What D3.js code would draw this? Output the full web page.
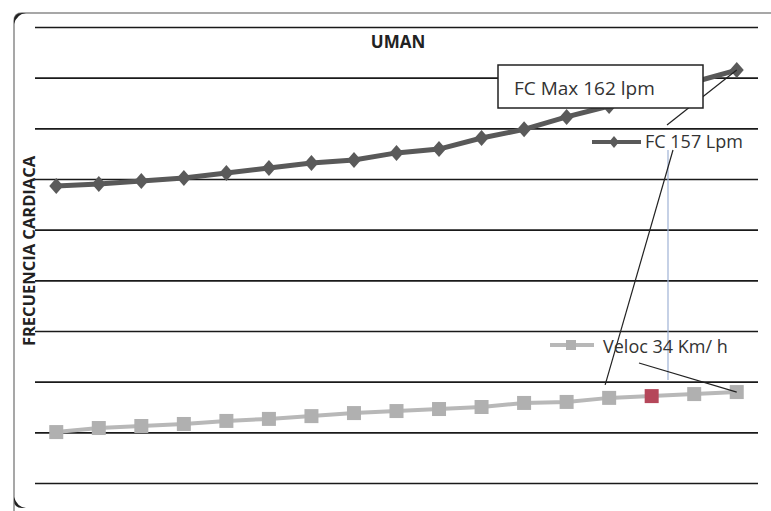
<!DOCTYPE html>
<html lang="es">
<head>
  <meta charset="utf-8">
  <title>UMAN</title>
  <script src="https://d3js.org/d3.v7.min.js"></script>
  <style>
    body { margin: 0; background: #fff; }
    text { font-family: "Open Sans", sans-serif; }
    .grid line { stroke: #1a1a1a; stroke-width: 1.6; }
    .grid path { display: none; }
    .grid text { display: none; }
  </style>
</head>
<body>
  <script>
    // etapas (17 mediciones)
    var stages = d3.range(1, 18);
    // frecuencia cardiaca (lpm)
    var fc = [117.2, 118.0, 119.2, 120.4, 122.4, 124.3, 126.3, 127.5, 130.3,
              131.8, 136.2, 139.6, 144.5, 148.8, 153.6, 158.3, 163.0];
    // velocidad (km/h)
    var veloc = [20.1, 21.7, 22.5, 23.3, 24.5, 25.3, 26.4, 27.6, 28.4,
                 29.2, 30.0, 31.6, 32.0, 33.6, 34.3, 35.1, 35.9];
    var yTicks = [0, 20, 40, 60, 80, 100, 120, 140, 160, 180];
    var highlightIdx = 14; // punto rojo en la serie de velocidad

    var w = 771, h = 511;
    var margin = {top: 27, right: 13, bottom: 28, left: 35};
    var innerW = w - margin.left - margin.right,
        innerH = h - margin.top - margin.bottom;

    var svg = d3.select('body').append('svg')
      .attr('width', w)
      .attr('height', h);

    // marco del grafico (solo borde superior e izquierdo visibles)
    svg.append('path')
      .attr('d', 'M14,520 L14,21 Q14,13 22,13 L771,13')
      .attr('fill', 'none')
      .attr('stroke', '#8a8a8a')
      .attr('stroke-width', 1.5);
    svg.append('path')
      .attr('d', 'M14,24 L14,21 Q14,13 22,13 L26,13 Q17,14 14,24 Z')
      .attr('fill', '#222');
    svg.append('path')
      .attr('d', 'M14,497 L14,500 Q14,508 22,508 L26,508 Q17,507 14,497 Z')
      .attr('fill', '#222');

    var g = svg.append('g')
      .attr('transform', 'translate(' + [margin.left, margin.top] + ')');

    var x = d3.scalePoint()
      .domain(stages)
      .range([0, innerW])
      .padding(0.5);
    var y = d3.scaleLinear()
      .domain([0, 180])
      .range([innerH, 0]);

    g.append('g')
      .attr('class', 'grid')
      .call(d3.axisLeft(y).tickValues(yTicks).tickSize(-innerW).tickFormat(''));

    // titulo
    g.append('text')
      .attr('x', 363)
      .attr('y', 21)
      .attr('text-anchor', 'middle')
      .style('font-weight', 'bold')
      .style('font-size', '17px')
      .attr('fill', '#222')
      .text('UMAN');

    // titulo eje Y
    svg.append('text')
      .attr('transform', 'translate(35,251) rotate(-90)')
      .attr('text-anchor', 'middle')
      .style('font-weight', 'bold')
      .style('font-size', '16.5px')
      .attr('fill', '#222')
      .text('FRECUENCIA CARDIACA');

    var line = d3.line()
      .x(function(d, i) { return x(stages[i]); })
      .y(function(d) { return y(d); });

    // serie velocidad
    g.append('path')
      .datum(veloc)
      .attr('d', line)
      .attr('fill', 'none')
      .attr('stroke', '#b8b8b8')
      .attr('stroke-width', 4);
    g.selectAll('.sq')
      .data(veloc)
      .enter().append('rect')
      .attr('class', 'sq')
      .attr('x', function(d, i) { return x(stages[i]) - 7; })
      .attr('y', function(d) { return y(d) - 7; })
      .attr('width', 14)
      .attr('height', 14)
      .attr('fill', function(d, i) { return i === highlightIdx ? '#b5475a' : '#b0b0b0'; });

    // serie frecuencia cardiaca
    g.append('path')
      .datum(fc)
      .attr('d', line)
      .attr('fill', 'none')
      .attr('stroke', '#595959')
      .attr('stroke-width', 5);
    g.selectAll('.dm')
      .data(fc)
      .enter().append('path')
      .attr('class', 'dm')
      .attr('transform', function(d, i) { return 'translate(' + [x(stages[i]), y(d)] + ')'; })
      .attr('d', 'M0,-8 L7,0 L0,8 L-7,0 Z')
      .attr('fill', '#5a5a5a');

    // lineas guia
    var last = stages.length - 1;
    var pFcLast = [margin.left + x(stages[last]), margin.top + y(fc[last])];
    var pVLast = [margin.left + x(stages[last]), margin.top + y(veloc[last])];
    var pV14 = [margin.left + x(stages[13]), margin.top + y(veloc[13])];

    svg.append('line')
      .attr('x1', 667).attr('y1', 125)
      .attr('x2', pFcLast[0]).attr('y2', pFcLast[1])
      .attr('stroke', '#222').attr('stroke-width', 1.2);
    svg.append('line')
      .attr('x1', 668).attr('y1', 150)
      .attr('x2', 668).attr('y2', 380)
      .attr('stroke', '#9fb3d6').attr('stroke-width', 1.2);
    svg.append('line')
      .attr('x1', 673).attr('y1', 150)
      .attr('x2', pV14[0] - 4).attr('y2', pV14[1] - 13)
      .attr('stroke', '#222').attr('stroke-width', 1.2);
    svg.append('line')
      .attr('x1', 639).attr('y1', 363)
      .attr('x2', pVLast[0]).attr('y2', pVLast[1])
      .attr('stroke', '#222').attr('stroke-width', 1.2);

    // caja FC Max
    svg.append('rect')
      .attr('x', 498).attr('y', 65)
      .attr('width', 205).attr('height', 43)
      .attr('fill', '#fff')
      .attr('stroke', '#222')
      .attr('stroke-width', 1.5);
    svg.append('text')
      .attr('x', 514).attr('y', 95)
      .style('font-size', '19px')
      .attr('fill', '#333')
      .text('FC Max 162 lpm');

    // etiqueta FC 157
    svg.append('line')
      .attr('x1', 592).attr('y1', 142).attr('x2', 641).attr('y2', 142)
      .attr('stroke', '#595959').attr('stroke-width', 4);
    svg.append('path')
      .attr('transform', 'translate(614,142)')
      .attr('d', 'M0,-6 L5,0 L0,6 L-5,0 Z')
      .attr('fill', '#5a5a5a');
    svg.append('text')
      .attr('x', 645).attr('y', 148)
      .style('font-size', '18px')
      .attr('fill', '#333')
      .text('FC 157 Lpm');

    // etiqueta Veloc 34
    svg.append('line')
      .attr('x1', 550).attr('y1', 345).attr('x2', 594).attr('y2', 345)
      .attr('stroke', '#b8b8b8').attr('stroke-width', 4);
    svg.append('rect')
      .attr('x', 566).attr('y', 340).attr('width', 10).attr('height', 10)
      .attr('fill', '#b0b0b0');
    svg.append('text')
      .attr('x', 603).attr('y', 353)
      .style('font-size', '18px')
      .attr('fill', '#333')
      .text('Veloc 34 Km/ h');
  </script>
</body>
</html>
